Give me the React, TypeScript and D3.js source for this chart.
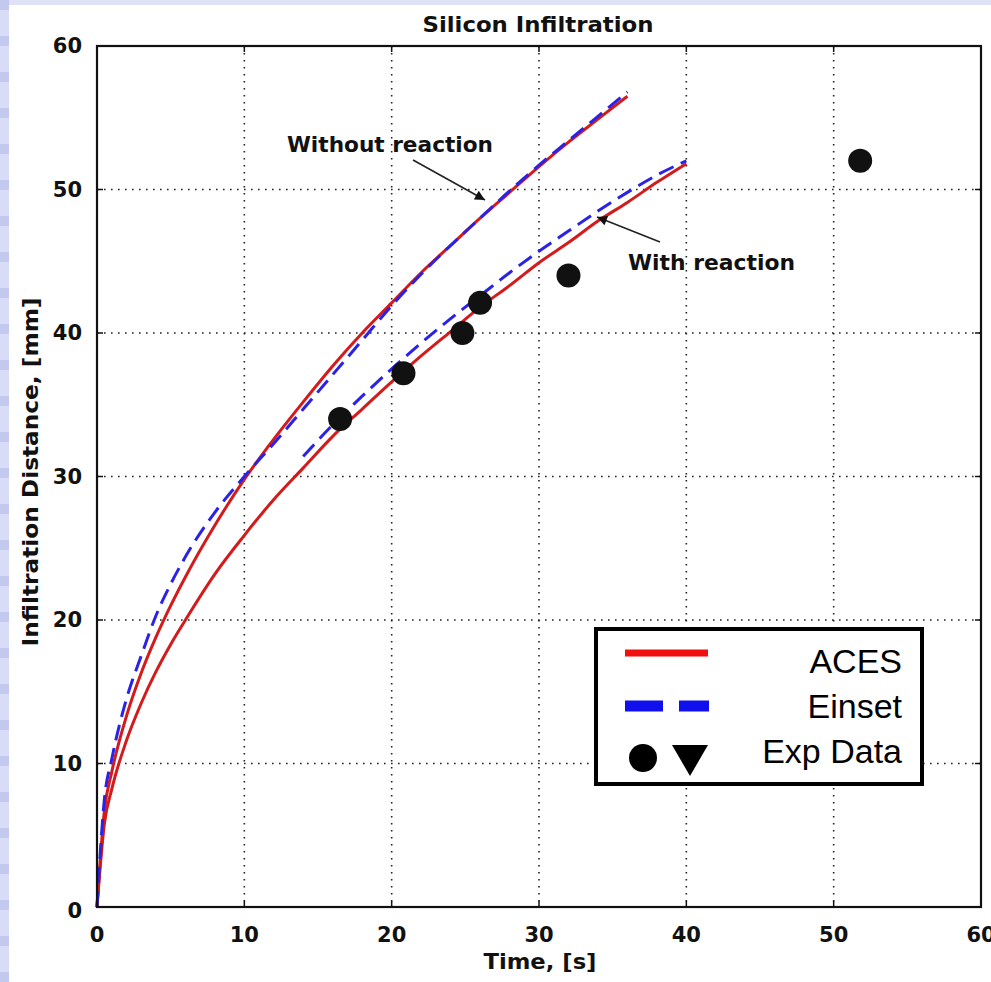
import React, { useEffect } from 'react';
import * as d3 from 'd3';

// time axis, seconds
const timeTicks = [0, 10, 20, 30, 40, 50, 60];
const distTicks = [0, 10, 20, 30, 40, 50, 60];

// ACES, without reaction
const acesNoRxT = [0, 0.5, 1, 2, 3, 4, 5, 6, 8, 10, 12, 14, 16, 18, 20, 22, 24, 26, 28, 30, 32, 34, 36];
const acesNoRxD = [0, 6.7, 9.4, 13.3, 16.3, 18.8, 21, 23, 26.6, 29.8, 32.6, 35.2, 37.7, 40, 42.1, 44.2, 46.1, 48, 49.8, 51.6, 53.3, 54.9, 56.5];

// Einset, without reaction
const einNoRxT = [0, 0.5, 1, 2, 3, 4, 5, 6, 8, 10, 12, 14, 16, 18, 20, 22, 24, 26, 28, 30, 32, 34, 36];
const einNoRxD = [0, 7.5, 10.3, 14.5, 17.5, 20.3, 22.5, 24.4, 27.5, 30, 32.3, 34.7, 37.1, 39.5, 41.9, 44.1, 46.1, 48, 49.9, 51.7, 53.4, 55.1, 56.8];

// ACES, with reaction
const acesRxT = [0, 0.5, 1, 2, 3, 4, 5, 6, 8, 10, 12, 14, 16, 18, 20, 22, 24, 26, 28, 30, 32, 34, 36, 38, 40];
const acesRxD = [0, 5.8, 8.2, 11.6, 14.2, 16.4, 18.3, 20, 23.2, 25.9, 28.4, 30.6, 32.8, 34.7, 36.6, 38.4, 40.1, 41.8, 43.3, 44.9, 46.3, 47.8, 49.1, 50.5, 51.8];

// Einset, with reaction
const einRxT = [14, 16, 18, 20, 22, 24, 26, 28, 30, 32, 34, 36, 38, 40];
const einRxD = [31.4, 33.6, 35.6, 37.5, 39.3, 41, 42.6, 44.2, 45.7, 47.1, 48.5, 49.8, 51, 52];

// experimental data
const expT = [16.5, 20.8, 24.8, 26, 32, 51.8];
const expD = [34, 37.2, 40, 42.1, 44, 52];

const W = 991;
const H = 982;
const font = 'DejaVu Sans, Verdana, sans-serif';

export default function App() {
  useEffect(() => {
    document.body.style.margin = '0';
  }, []);

  const x = d3.scaleLinear().domain([0, 60]).range([97, 981]);
  const y = d3.scaleLinear().domain([0, 60]).range([907, 46]);

  const line = d3
    .line<[number, number]>()
    .x((d) => x(d[0]))
    .y((d) => y(d[1]))
    .curve(d3.curveMonotoneX);

  const pts = (t: number[], v: number[]) => t.map((d, i) => [d, v[i]] as [number, number]);

  const gridX = timeTicks.filter((d) => d > 0 && d < 60);
  const gridY = distTicks.filter((d) => d > 0 && d < 60);

  const red = '#d41a1a';
  const blue = '#2a22e6';

  return (
    <svg width={W} height={H} style={{ display: 'block' }}>
      <defs>
        <pattern id="stripes" width="10" height="36" patternUnits="userSpaceOnUse">
          <rect width="10" height="36" fill="#d9dcf6" />
          <rect y="0" width="10" height="10" fill="#c3c8ee" />
        </pattern>
        <marker id="arrow" viewBox="0 0 10 10" refX="10" refY="5" markerWidth="14" markerHeight="10" markerUnits="userSpaceOnUse" orient="auto">
          <path d="M0,0 L10,5 L0,10 z" fill="#111" />
        </marker>
      </defs>
      <rect width={W} height={H} fill="#dfe2f7" />
      <rect width={9} height={H} fill="url(#stripes)" />
      <rect x={9} y={5} width={W - 9} height={H - 5} fill="#ffffff" />

      {/* grid */}
      {gridX.map((d) => (
        <line key={'gx' + d} x1={x(d)} x2={x(d)} y1={y(60)} y2={y(0)} stroke="#222" strokeWidth={1.6} strokeDasharray="1.6,5.4" />
      ))}
      {gridY.map((d) => (
        <line key={'gy' + d} x1={x(0)} x2={x(60)} y1={y(d)} y2={y(d)} stroke="#222" strokeWidth={1.6} strokeDasharray="1.6,5.4" />
      ))}

      {/* tick marks */}
      {gridX.map((d) => (
        <g key={'tx' + d} stroke="#111" strokeWidth={1.5}>
          <line x1={x(d)} x2={x(d)} y1={y(0)} y2={y(0) - 6} />
          <line x1={x(d)} x2={x(d)} y1={y(60)} y2={y(60) + 6} />
        </g>
      ))}
      {gridY.map((d) => (
        <g key={'ty' + d} stroke="#111" strokeWidth={1.5}>
          <line x1={x(0)} x2={x(0) + 6} y1={y(d)} y2={y(d)} />
          <line x1={x(60)} x2={x(60) - 6} y1={y(d)} y2={y(d)} />
        </g>
      ))}

      {/* curves */}
      <path d={line(pts(acesNoRxT, acesNoRxD)) || ''} fill="none" stroke={red} strokeWidth={3} />
      <path d={line(pts(acesRxT, acesRxD)) || ''} fill="none" stroke={red} strokeWidth={3} />
      <path d={line(pts(einNoRxT, einNoRxD)) || ''} fill="none" stroke={blue} strokeWidth={3} strokeDasharray="16,8" />
      <path d={line(pts(einRxT, einRxD)) || ''} fill="none" stroke={blue} strokeWidth={3} strokeDasharray="16,8" />

      {/* experimental points */}
      {expT.map((t, i) => (
        <circle key={'e' + i} cx={x(t)} cy={y(expD[i])} r={12} fill="#111" />
      ))}

      {/* frame */}
      <rect x={x(0)} y={y(60)} width={x(60) - x(0)} height={y(0) - y(60)} fill="none" stroke="#111" strokeWidth={2.2} />

      {/* tick labels */}
      {distTicks.map((d) => (
        <text key={'ly' + d} x={82} y={y(d) + (d === 0 ? 11 : 7)} textAnchor="end" fontFamily={font} fontWeight="bold" fontSize={21} fill="#111">
          {d}
        </text>
      ))}
      {timeTicks.map((d) => (
        <text key={'lx' + d} x={x(d)} y={942} textAnchor="middle" fontFamily={font} fontWeight="bold" fontSize={21} fill="#111">
          {d}
        </text>
      ))}

      {/* titles */}
      <text x={538} y={32} textAnchor="middle" fontFamily={font} fontWeight="bold" fontSize={21} textLength={231} lengthAdjust="spacingAndGlyphs" fill="#111">
        Silicon Infiltration
      </text>
      <text x={540} y={969} textAnchor="middle" fontFamily={font} fontWeight="bold" fontSize={22} textLength={113} lengthAdjust="spacingAndGlyphs" fill="#111">
        Time, [s]
      </text>
      <text transform="translate(38,472) rotate(-90)" textAnchor="middle" fontFamily={font} fontWeight="bold" fontSize={21} textLength={349} lengthAdjust="spacingAndGlyphs" fill="#111">
        Infiltration Distance, [mm]
      </text>

      {/* annotations */}
      <text x={287} y={152} fontFamily={font} fontWeight="bold" fontSize={21} textLength={206} lengthAdjust="spacingAndGlyphs" fill="#111">
        Without reaction
      </text>
      <line x1={413} y1={160} x2={485} y2={200} stroke="#222" strokeWidth={1.6} markerEnd="url(#arrow)" />
      <text x={628} y={270} fontFamily={font} fontWeight="bold" fontSize={21} textLength={167} lengthAdjust="spacingAndGlyphs" fill="#111">
        With reaction
      </text>
      <line x1={660} y1={242} x2={597} y2={217} stroke="#222" strokeWidth={1.6} markerEnd="url(#arrow)" />

      {/* legend */}
      <rect x={596} y={629} width={326} height={155} fill="#fff" stroke="#000" strokeWidth={4} />
      <line x1={625} x2={708} y1={653} y2={653} stroke="#f01010" strokeWidth={7} />
      <line x1={625} x2={663} y1={706} y2={706} stroke="#1010ee" strokeWidth={11} />
      <line x1={679} x2={709} y1={706} y2={706} stroke="#1010ee" strokeWidth={11} />
      <circle cx={643} cy={758} r={14} fill="#000" />
      <path d="M672,745 L708,745 L690,776 Z" fill="#000" />
      <text x={902} y={673} textAnchor="end" fontFamily="Liberation Sans, Arial, sans-serif" fontSize={34} fill="#000">ACES</text>
      <text x={902} y={718} textAnchor="end" fontFamily="Liberation Sans, Arial, sans-serif" fontSize={34} fill="#000">Einset</text>
      <text x={902} y={763} textAnchor="end" fontFamily="Liberation Sans, Arial, sans-serif" fontSize={34} fill="#000">Exp Data</text>
    </svg>
  );
}
